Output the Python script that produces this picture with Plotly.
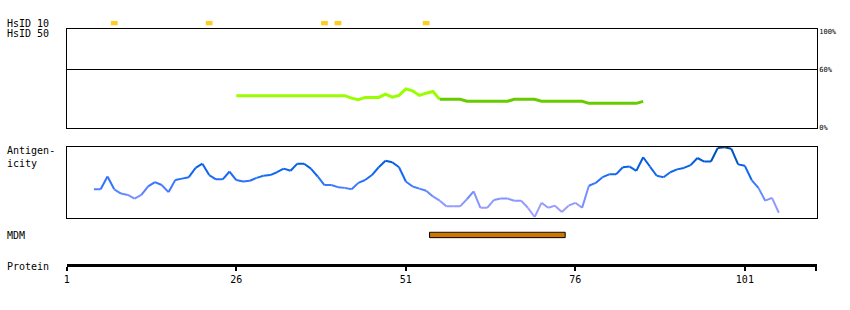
import plotly.graph_objects as go

# ---------------- data ----------------
protein_length = 111
tick_positions = [1, 26, 51, 76, 101]

hsid10_positions = [8, 22, 39, 41, 54]

hsid50_residues_a = list(range(26, 57))
hsid50_values_a = [33.3] * 17 + [30.8, 29.2, 31.5, 31.5, 31.5, 34.9, 31.8, 33.6,
                                 40.4, 38.3, 33.6, 35.9, 37.6, 29.5]
hsid50_residues_b = list(range(56, 87))
hsid50_values_b = ([29.5] * 4 + [27.5] * 7 + [29.5] * 4 + [27.5] * 7 +
                   [25.4] * 8 + [27.5])

antigen_residues = list(range(5, 107))
antigen_values = [
    0.40, 0.40, 0.58, 0.40, 0.34, 0.32, 0.27, 0.32, 0.44, 0.50,
    0.46, 0.36, 0.53, 0.55, 0.57, 0.70, 0.76, 0.60, 0.54, 0.54,
    0.65, 0.53, 0.51, 0.52, 0.56, 0.59, 0.60, 0.64, 0.69, 0.66,
    0.76, 0.76, 0.69, 0.58, 0.46, 0.46, 0.43, 0.42, 0.40, 0.49,
    0.53, 0.60, 0.71, 0.80, 0.78, 0.71, 0.51, 0.44, 0.41, 0.38,
    0.30, 0.24, 0.16, 0.16, 0.16, 0.26, 0.37, 0.14, 0.14, 0.25,
    0.27, 0.27, 0.24, 0.24, 0.14, 0.01, 0.21, 0.14, 0.17, 0.08,
    0.17, 0.21, 0.14, 0.45, 0.49, 0.57, 0.61, 0.61, 0.71, 0.72,
    0.66, 0.85, 0.72, 0.59, 0.57, 0.64, 0.68, 0.70, 0.74, 0.84,
    0.79, 0.79, 0.98, 0.99, 0.97, 0.75, 0.73, 0.53, 0.42, 0.24,
    0.28, 0.07,
]

mdm_start = 55
mdm_end = 74

# ---------------- layout helpers ----------------
W, H = 850, 310
def fy(py):
    return 1 - py / H

X_LEFT, X_RIGHT = 64, 816.7
PX_PER_RES = 6.805
x_range = [1, 1 + (X_RIGHT - X_LEFT) / PX_PER_RES]
x_domain = [X_LEFT / W, X_RIGHT / W]
FONT = "DejaVu Sans Mono"

stops = [(0.0, (175, 165, 255)), (0.25, (135, 150, 255)), (0.45, (60, 120, 255)),
         (0.6, (20, 105, 245)), (0.8, (0, 90, 220)), (1.0, (0, 70, 140))]
def blue(v):
    for (a, ca), (b, cb) in zip(stops[:-1], stops[1:]):
        if v <= b:
            t = (v - a) / (b - a) if b > a else 0
            c = [round(ca[i] + (cb[i] - ca[i]) * t) for i in range(3)]
            return "rgb(%d,%d,%d)" % tuple(c)
    return "rgb(%d,%d,%d)" % stops[-1][1]

fig = go.Figure()

# HsID 10 marks
fig.add_trace(go.Bar(x=hsid10_positions, y=[1] * len(hsid10_positions), width=1,
                     marker=dict(color="#ffcc22", line=dict(width=0)),
                     xaxis="x", yaxis="y"))

# HsID 50 line
fig.add_trace(go.Scatter(x=hsid50_residues_a, y=hsid50_values_a, mode="lines",
                         line=dict(color="#99ff00", width=3),
                         xaxis="x2", yaxis="y2"))
fig.add_trace(go.Scatter(x=hsid50_residues_b, y=hsid50_values_b, mode="lines",
                         line=dict(color="#66cc00", width=3),
                         xaxis="x2", yaxis="y2"))

# Antigenicity line, coloured by value
for i in range(len(antigen_residues) - 1):
    v = (antigen_values[i] + antigen_values[i + 1]) / 2
    fig.add_trace(go.Scatter(x=antigen_residues[i:i + 2], y=antigen_values[i:i + 2],
                             mode="lines", line=dict(color=blue(v), width=2),
                             xaxis="x3", yaxis="y3"))

# MDM domain (bar from 0 to 1 on y4)
fig.add_trace(go.Bar(x=[mdm_end - mdm_start + 1], base=[mdm_start - 0.5], y=[0.5],
                     width=1, orientation="h",
                     marker=dict(color="rgb(204,119,0)", line=dict(color="black", width=1)),
                     xaxis="x", yaxis="y4"))

hidden_y = dict(visible=False, fixedrange=True)
box_x = dict(domain=x_domain, matches="x", showline=True, mirror=True, linecolor="black",
             linewidth=1, showticklabels=False, ticks="", showgrid=False, zeroline=False)

# y4: value 1 at pixel 235, value 0 at pixel 240.5 -> bottom of domain is the protein axis
mdm_top, mdm_bot, axis_px = 235, 240.5, 267.5
unit = mdm_bot - mdm_top
y4_low = -(axis_px - mdm_bot) / unit

fig.update_layout(
    width=W, height=H, margin=dict(l=0, r=0, t=0, b=0),
    paper_bgcolor="white", plot_bgcolor="white", showlegend=False, barmode="overlay",
    xaxis=dict(domain=x_domain, range=x_range, anchor="y4", showline=True, linecolor="black",
               linewidth=3, ticks="outside", ticklen=4, tickwidth=2, tickcolor="black",
               tickmode="array", tickvals=tick_positions + [x_range[1] - 0.05],
               ticktext=[str(t) for t in tick_positions] + [""],
               tickfont=dict(family=FONT, size=10, color="black"),
               showgrid=False, zeroline=False),
    yaxis=dict(domain=[fy(25), fy(20)], range=[0, 1], **hidden_y),
    xaxis2=dict(anchor="y2", **box_x),
    yaxis2=dict(domain=[fy(129), fy(28.3)], range=[0, 102.4], anchor="x2", side="right",
                showline=True, mirror=True, linecolor="black", linewidth=1,
                tickmode="array", tickvals=[0, 60, 100], ticktext=["0%", "60%", "100%"],
                ticks="", tickfont=dict(family=FONT, size=7, color="black"),
                showgrid=False, zeroline=False,
                minor=dict(tickmode="array", tickvals=[60], showgrid=True,
                           gridcolor="black", gridwidth=1, ticks="")),
    xaxis3=dict(anchor="y3", **box_x),
    yaxis3=dict(domain=[fy(220.3), fy(148)], range=[0, 1], anchor="x3", showline=True,
                mirror=True, linecolor="black", linewidth=1, showticklabels=False,
                ticks="", showgrid=False, zeroline=False),
    yaxis4=dict(domain=[fy(axis_px), fy(mdm_top - 1)],
                range=[y4_low, 1 + 1 / unit], **hidden_y),
)

labels = [("HsID 10", 22.7), ("HsID 50", 32.7), ("Antigen-<br>icity", 158.3),
          ("MDM", 238.5), ("Protein", 269.5)]
for text, py in labels:
    fig.add_annotation(text=text, x=2 / W, y=fy(py), xref="paper", yref="paper",
                       xanchor="left", yanchor="middle", showarrow=False, align="left",
                       font=dict(family=FONT, size=10, color="black"))

fig.write_html("out.html")
